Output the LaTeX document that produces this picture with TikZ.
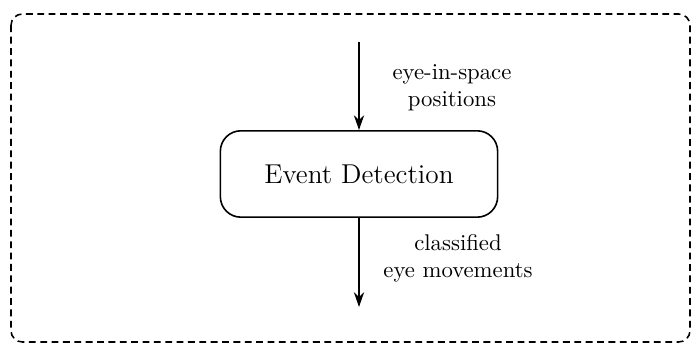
\documentclass[tikz,border=0pt]{standalone}
\usetikzlibrary{arrows.meta}
\begin{document}
\begin{tikzpicture}[x=0.44pt,y=-0.44pt,
  frame/.style={draw,dashed,dash pattern=on 3pt off 2pt,rounded corners=5pt,line width=0.7pt},
  procbox/.style={draw,line width=0.7pt,rounded corners=9pt,minimum width=122pt,minimum height=38pt,font=\large},
  flow/.style={-{Stealth[length=6.5pt,width=4.5pt]},line width=0.7pt},
  lbl/.style={align=center,inner sep=0pt}]
\useasboundingbox (0,0) rectangle (700,357);
\draw[frame] (11,14) rectangle (690,342);
\node[procbox] (ed) at (359,174) {Event Detection};
\coordinate (src) at (359,42);
\coordinate (snk) at (359,307);
\draw[flow] (src) -- (ed.north);
\draw[flow] (ed.south) -- (snk);
\node[lbl] (inlbl) at (452,88) {eye-in-space\\positions};
\node[lbl] (outlbl) at (458,258) {classified\\eye movements};
\end{tikzpicture}
\end{document}
